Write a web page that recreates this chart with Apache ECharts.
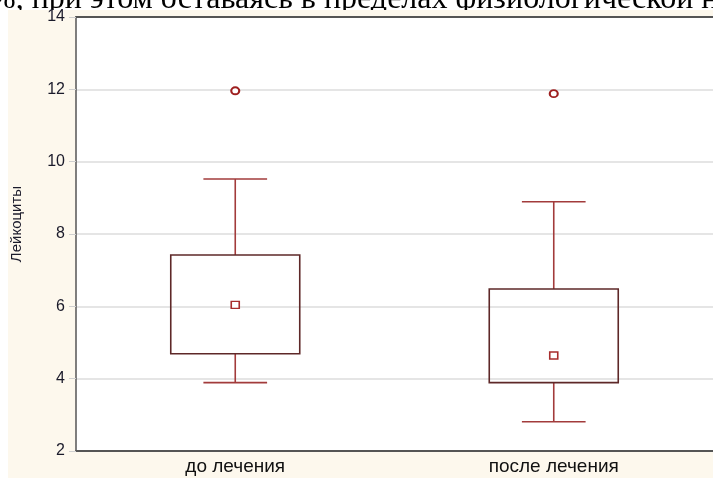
<!DOCTYPE html>
<html>
<head>
<meta charset="utf-8">
<script src="https://cdn.jsdelivr.net/npm/echarts@6/dist/echarts.min.js"></script>
<style>
  html, body { margin: 0; padding: 0; background: #fff; }
  #chart { width: 713px; height: 478px; }
</style>
</head>
<body>
<div id="chart"></div>
<script>
// Лейкоциты до и после лечения: box-and-whisker summary
const categories = ['до лечения', 'после лечения'];
const whiskerLow = [3.89, 2.81];
const quartile1 = [4.69, 3.89];
const quartile3 = [7.42, 6.48];
const whiskerHigh = [9.52, 8.89];
const medians = [6.04, 4.64];
const outliers = [11.96, 11.88];
const yTicks = { min: 2, max: 14, step: 2 };

const boxData = categories.map((c, i) => [i, whiskerLow[i], quartile1[i], quartile3[i], whiskerHigh[i]]);
const medianData = categories.map((c, i) => [i, medians[i]]);
const outlierData = categories.map((c, i) => [i, outliers[i]]);

const chart = echarts.init(document.getElementById('chart'));

function renderBox(params, api) {
  const i = api.value(0);
  const lo = api.coord([i, api.value(1)]);
  const q1 = api.coord([i, api.value(2)]);
  const q3 = api.coord([i, api.value(3)]);
  const hi = api.coord([i, api.value(4)]);
  const band = api.size([1, 0])[0];
  const bw = band * 0.405;
  const cw = band * 0.2;
  const x = lo[0];
  const whisker = { stroke: '#a23b3b', lineWidth: 1.6 };
  return {
    type: 'group',
    children: [
      { type: 'line', shape: { x1: x, y1: q3[1], x2: x, y2: hi[1] }, style: whisker },
      { type: 'line', shape: { x1: x - cw / 2, y1: hi[1], x2: x + cw / 2, y2: hi[1] }, style: whisker },
      { type: 'line', shape: { x1: x, y1: q1[1], x2: x, y2: lo[1] }, style: whisker },
      { type: 'line', shape: { x1: x - cw / 2, y1: lo[1], x2: x + cw / 2, y2: lo[1] }, style: whisker },
      {
        type: 'rect',
        shape: { x: x - bw / 2, y: q3[1], width: bw, height: q1[1] - q3[1] },
        style: { fill: 'rgba(255,255,255,0)', stroke: '#5e2828', lineWidth: 1.6 }
      }
    ]
  };
}

const sans = '"Liberation Sans", Arial, sans-serif';

chart.setOption({
  backgroundColor: '#ffffff',
  animation: false,
  graphic: [
    {
      type: 'text',
      z: -20,
      style: {
        text: '4 %, при этом оставаясь в пределах физиологической нормы',
        x: -35, y: 16,
        font: '32px "Liberation Serif", "Times New Roman", serif',
        fill: '#000',
        verticalAlign: 'bottom'
      }
    },
    {
      type: 'rect',
      z: -10,
      shape: { x: 8, y: 10, width: 705, height: 468 },
      style: { fill: '#fdf8ed' }
    }
  ],
  grid: {
    left: 76, width: 642, top: 17, height: 434,
    show: true, backgroundColor: '#ffffff', borderWidth: 0
  },
  xAxis: [
    {
      type: 'category', data: categories, position: 'bottom',
      axisLine: { lineStyle: { color: '#555', width: 2 } },
      axisTick: { inside: true, alignWithLabel: true, length: 4, lineStyle: { color: '#333' } },
      axisLabel: { color: '#111', fontFamily: sans, fontSize: 19, margin: 6 },
      splitLine: { show: false }
    },
    {
      type: 'category', data: categories, position: 'top',
      axisLine: { lineStyle: { color: '#555', width: 2 } },
      axisTick: { inside: true, alignWithLabel: true, length: 4, lineStyle: { color: '#333' } },
      axisLabel: { show: false },
      splitLine: { show: false }
    }
  ],
  yAxis: {
    type: 'value', min: yTicks.min, max: yTicks.max, interval: yTicks.step,
    name: 'Лейкоциты', nameLocation: 'middle', nameRotate: 90, nameGap: 52,
    nameTextStyle: { color: '#1a1a2a', fontFamily: sans, fontSize: 15, padding: [0, 0, 0, 20] },
    axisLine: { show: true, lineStyle: { color: '#555', width: 1.5 } },
    axisTick: { show: true, length: 7, lineStyle: { color: '#cfcfcf' } },
    axisLabel: { color: '#1a1a2a', fontFamily: sans, fontSize: 16, margin: 11 },
    splitLine: { lineStyle: { color: '#dddddd', width: 1.5 } }
  },
  series: [
    {
      type: 'custom',
      renderItem: renderBox,
      encode: { x: 0, y: [1, 2, 3, 4] },
      data: boxData,
      z: 3
    },
    {
      type: 'scatter',
      data: medianData,
      symbol: 'rect',
      symbolSize: [8, 7],
      itemStyle: { color: '#ffffff', borderColor: '#a82d2d', borderWidth: 1.5, opacity: 1 },
      z: 4
    },
    {
      type: 'scatter',
      data: outlierData,
      symbol: 'circle',
      symbolSize: [8, 7],
      itemStyle: { color: '#ffffff', borderColor: '#9e1f1f', borderWidth: 2, opacity: 1 },
      z: 4
    }
  ]
});
</script>
</body>
</html>
